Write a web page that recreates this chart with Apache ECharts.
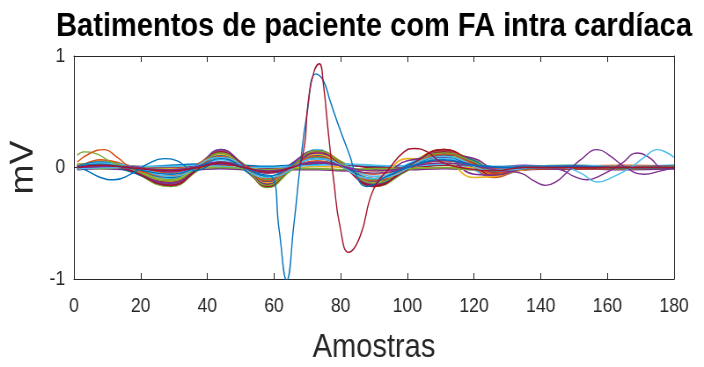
<!DOCTYPE html>
<html>
<head>
<meta charset="utf-8">
<script src="https://cdn.jsdelivr.net/npm/echarts@6/dist/echarts.min.js"></script>
<style>
html, body { margin: 0; padding: 0; background: #fff; overflow: hidden; }
/* the reference text is narrow and tall, so the whole figure is squeezed horizontally */
#chart { width: 800px; height: 367px; transform: scaleX(0.88); transform-origin: 0 0; }
</style>
</head>
<body>
<div id="chart"></div>
<script>
// sample positions shared by the bundle of beats
const knots = [1, 8, 16, 29, 37, 44, 51, 58, 65, 73, 81, 90, 100, 111, 120, 126, 135, 150, 165, 180]

// beats that follow the common oscillation (mV at each knot)
const oscBeats = [
  [0.02, 0.04, -0.01, -0.15, -0.02, 0.15, 0.02, -0.16, -0.02, 0.15, 0.03, -0.16, -0.01, 0.15, 0.05, -0.04, 0.00, 0.01, 0.00, 0.01],
  [0.00, 0.06, 0.01, -0.12, 0.01, 0.13, -0.01, -0.14, 0.01, 0.13, 0.01, -0.14, 0.02, 0.16, 0.03, -0.06, -0.01, 0.00, 0.01, 0.00],
  [-0.02, 0.02, -0.02, -0.17, -0.03, 0.12, 0.03, -0.18, -0.03, 0.12, 0.04, -0.17, -0.03, 0.13, 0.07, -0.02, 0.01, -0.01, 0.00, -0.01],
  [0.01, 0.05, 0.00, -0.10, 0.02, 0.16, 0.00, -0.12, 0.02, 0.16, 0.00, -0.12, 0.03, 0.14, -0.02, -0.08, -0.02, 0.01, 0.01, 0.02],
  [0.03, 0.03, -0.03, -0.14, 0.00, 0.11, -0.02, -0.15, 0.00, 0.11, 0.02, -0.15, -0.02, 0.12, 0.06, -0.03, 0.00, 0.00, -0.01, 0.00],
  [-0.01, 0.07, 0.02, -0.08, 0.03, 0.14, 0.01, -0.10, 0.01, 0.14, 0.03, -0.10, 0.01, 0.16, 0.00, -0.09, -0.01, 0.01, 0.02, 0.01],
  [0.00, 0.01, -0.01, -0.16, -0.01, 0.16, 0.02, -0.13, 0.03, 0.15, 0.01, -0.13, 0.00, 0.11, 0.08, 0.00, 0.02, -0.01, -0.01, -0.01],
  [0.02, 0.04, 0.00, -0.11, 0.01, 0.09, 0.00, -0.11, 0.00, 0.09, 0.01, -0.11, 0.01, 0.10, 0.03, -0.05, 0.00, 0.02, 0.00, 0.00],
  [-0.01, 0.03, -0.01, -0.13, 0.00, 0.13, 0.01, -0.17, -0.01, 0.12, 0.02, -0.16, -0.02, 0.14, 0.01, -0.07, -0.02, 0.00, 0.01, 0.01],
  [0.01, 0.05, 0.01, -0.09, 0.02, 0.10, -0.01, -0.12, 0.02, 0.10, 0.00, -0.12, 0.02, 0.12, 0.04, -0.04, 0.01, 0.01, 0.00, 0.00],
  [0.00, 0.03, 0.00, -0.12, 0.01, 0.12, 0.00, -0.14, 0.00, 0.12, 0.00, -0.14, 0.08, 0.06, -0.09, -0.08, -0.02, 0.00, 0.01, 0.00],
  [0.01, 0.02, -0.01, -0.14, -0.01, 0.13, 0.01, -0.15, -0.01, 0.13, 0.02, -0.15, 0.06, 0.09, -0.06, -0.07, -0.01, 0.01, 0.00, 0.00],
  [0.00, 0.04, 0.02, -0.06, 0.01, 0.07, 0.00, -0.08, 0.01, 0.08, 0.02, -0.08, 0.00, 0.08, 0.03, -0.02, 0.00, 0.00, 0.01, 0.00],
  [-0.01, 0.01, -0.02, -0.16, -0.02, 0.14, 0.00, -0.16, 0.00, 0.15, 0.00, -0.17, 0.00, 0.16, 0.04, -0.05, -0.01, -0.01, 0.00, 0.00]
]

// nearly flat beats in the core of the bundle
const flatBeats = [
  [0.01, 0.02, 0.00, 0.02, 0.03, 0.03, 0.02, 0.01, 0.02, 0.03, 0.02, 0.01, 0.01, 0.02, 0.01, 0.00, 0.01, 0.01, 0.00, 0.01],
  [-0.02, -0.01, -0.02, -0.03, -0.02, -0.01, -0.02, -0.03, -0.02, -0.02, -0.03, -0.02, -0.02, -0.01, -0.02, -0.03, -0.02, -0.01, -0.02, -0.01],
  [0.00, 0.01, 0.01, 0.00, 0.01, 0.02, 0.01, -0.01, 0.00, 0.04, 0.03, 0.00, 0.00, 0.02, 0.02, 0.00, 0.00, 0.00, 0.00, 0.00],
  [0.03, 0.02, 0.00, -0.01, 0.00, 0.01, 0.00, -0.02, -0.01, 0.01, 0.00, -0.03, -0.01, 0.00, 0.00, -0.01, -0.01, 0.00, 0.01, 0.00],
  [-0.01, 0.00, 0.01, 0.01, 0.02, 0.01, 0.00, 0.00, 0.01, 0.02, 0.03, 0.02, 0.01, 0.03, 0.02, 0.01, 0.01, 0.02, 0.01, 0.02],
  [0.01, 0.03, 0.02, -0.05, -0.02, 0.05, 0.01, -0.05, 0.00, 0.06, 0.01, -0.06, 0.00, 0.06, 0.02, -0.01, 0.00, -0.01, -0.01, 0.00],
  [0.00, -0.01, 0.00, -0.02, -0.01, 0.00, -0.01, -0.02, -0.01, -0.01, -0.02, -0.01, -0.01, 0.00, -0.02, -0.02, -0.01, 0.00, -0.01, 0.00]
]

// odd beats, [sample, mV]
const blueEarly = [[1, 0.01], [4, -0.03], [8, -0.09], [12, -0.11], [17, -0.06], [22, 0.03], [27, 0.08], [31, 0.06], [36, -0.03], [44, 0.05], [51, 0.0], [58, -0.08], [65, 0.0], [73, 0.08], [81, 0.0], [90, -0.1], [100, 0.0], [111, 0.1], [120, 0.02], [135, 0.0], [150, 0.01], [165, 0.0], [180, 0.0]]
const orangeEarly = [[1, 0.05], [5, 0.13], [9, 0.16], [13, 0.09], [17, 0.0], [22, -0.05], [28, -0.08], [37, 0.0], [44, 0.1], [51, 0.0], [58, -0.12], [65, 0.0], [73, 0.1], [81, 0.0], [90, -0.12], [100, 0.0], [111, 0.12], [120, 0.03], [126, -0.05], [135, 0.0], [150, 0.0], [165, 0.01], [180, 0.0]]
const greenEarly = [[1, 0.11], [3, 0.14], [7, 0.12], [11, 0.05], [16, 0.0], [29, -0.12], [37, 0.0], [44, 0.13], [51, 0.0], [58, -0.16], [65, 0.0], [73, 0.15], [81, 0.02], [90, -0.14], [100, 0.0], [111, 0.13], [120, 0.05], [126, -0.03], [135, 0.0], [150, 0.0], [165, 0.0], [180, 0.01]]
const purpleA = [[1, 0.0], [16, 0.01], [29, -0.04], [44, 0.05], [58, -0.05], [73, 0.05], [90, -0.05], [111, 0.06], [126, -0.02], [134, -0.05], [138, -0.12], [141.5, -0.16], [145, -0.12], [148, -0.04], [152, 0.07], [157, 0.16], [161, 0.1], [165, 0.01], [171, -0.06], [176, -0.03], [180, 0.0]]
const purpleB = [[1, 0.01], [16, 0.0], [29, -0.02], [44, 0.03], [58, -0.03], [73, 0.04], [90, -0.03], [111, 0.04], [126, 0.0], [140, 0.0], [146, -0.02], [150, -0.08], [154, -0.11], [158, -0.07], [164, 0.03], [169, 0.13], [173, 0.08], [176, 0.0], [180, -0.01]]
const cyanLate = [[1, -0.01], [16, 0.0], [29, -0.08], [44, 0.09], [58, -0.09], [73, 0.08], [90, -0.1], [111, 0.1], [126, -0.03], [140, 0.0], [147, 0.0], [152, -0.05], [157, -0.13], [162, -0.08], [167, 0.0], [171, 0.09], [175, 0.16], [178, 0.13], [180, 0.09]]
const bigBlue = [[1, 0.01], [8, 0.03], [16, 0.0], [29, -0.06], [37, 0.0], [44, 0.08], [51, 0.0], [56, -0.06], [59.3, -0.08], [61.5, -0.55], [63.8, -1.01], [66, -0.5], [67.8, 0.0], [69.8, 0.46], [72.6, 0.84], [74.8, 0.78], [76.8, 0.6], [79.8, 0.34], [82.8, 0.1], [84.8, -0.08], [87.8, -0.17], [93.8, -0.08], [100, 0.0], [111, 0.07], [120, 0.02], [135, 0.0], [150, 0.01], [165, 0.0], [180, 0.0]]
const bigRed = [[1, 0.0], [8, 0.02], [16, 0.0], [29, -0.03], [37, 0.0], [44, 0.04], [51, 0.0], [58, -0.04], [64, -0.01], [68.3, 0.07], [70.3, 0.6], [72, 0.86], [73.6, 0.93], [74.8, 0.75], [76.3, 0.31], [78, -0.14], [79.8, -0.53], [82.4, -0.76], [85.8, -0.62], [89.8, -0.2], [94.8, 0.0], [99, 0.14], [102, 0.17], [106, 0.14], [110, 0.05], [116, 0.0], [126, -0.03], [135, 0.0], [150, 0.0], [165, 0.0], [180, 0.0]]

const xTicks = [0, 180, 20]
const yTicks = [-1, 1, 1]

const matlabColors = ['#0072BD', '#D95319', '#EDB120', '#7E2F8E', '#77AC30', '#4DBEEE', '#A2142F']
const axisColor = '#262626'
const font = 'Liberation Sans, Arial, Helvetica, sans-serif'

const lineBase = {
  type: 'line',
  smooth: 0.5,
  symbol: 'none',
  lineStyle: { width: 1.6 },
  silent: true
}

const bundle = []
flatBeats.forEach((b, i) => { bundle.push(b); if (oscBeats[i * 2]) bundle.push(oscBeats[i * 2]); if (oscBeats[i * 2 + 1]) bundle.push(oscBeats[i * 2 + 1]) })

const series = bundle.map((vals, i) => Object.assign({}, lineBase, {
  color: matlabColors[i % 7],
  data: knots.map((x, k) => [x, vals[k]])
}))

const odd = [
  [greenEarly, '#77AC30'],
  [orangeEarly, '#D95319'],
  [blueEarly, '#0072BD'],
  [purpleB, '#7E2F8E'],
  [cyanLate, '#4DBEEE'],
  [purpleA, '#7E2F8E'],
  [bigBlue, '#0072BD'],
  [bigRed, '#A2142F']
]
odd.forEach(([data, color]) => series.push(Object.assign({}, lineBase, { color, data, lineStyle: { width: 1.4 } })))

const boxLine = { show: true, onZero: false, lineStyle: { color: axisColor, width: 1 } }
const inTick = { show: true, inside: true, length: 6, lineStyle: { color: axisColor } }

const option = {
  animation: false,
  backgroundColor: '#fff',
  title: {
    text: 'Batimentos de paciente com FA intra cardíaca',
    left: 420,
    textAlign: 'center',
    top: 5,
    textStyle: { fontFamily: font, fontWeight: 'bold', fontSize: 33, color: '#000' }
  },
  grid: { left: 84, right: 34, top: 56, bottom: 88, outerBoundsMode: 'none' },
  xAxis: [
    {
      type: 'value',
      min: xTicks[0],
      max: xTicks[1],
      interval: xTicks[2],
      name: 'Amostras',
      nameLocation: 'middle',
      nameGap: 52,
      nameTextStyle: { fontFamily: font, fontSize: 33, color: axisColor },
      axisLine: boxLine,
      axisTick: inTick,
      splitLine: { show: false },
      axisLabel: { fontFamily: font, fontSize: 20, color: axisColor, margin: 17 }
    },
    {
      type: 'value',
      position: 'top',
      min: xTicks[0],
      max: xTicks[1],
      interval: xTicks[2],
      axisLine: boxLine,
      axisTick: inTick,
      splitLine: { show: false },
      axisLabel: { show: false }
    }
  ],
  yAxis: [
    {
      type: 'value',
      min: yTicks[0],
      max: yTicks[1],
      interval: yTicks[2],
      name: 'mV',
      nameLocation: 'middle',
      nameGap: 34,
      nameTextStyle: { fontFamily: font, fontSize: 36, color: axisColor },
      axisLine: boxLine,
      axisTick: inTick,
      splitLine: { show: false },
      axisLabel: { fontFamily: font, fontSize: 20, color: axisColor, margin: 10 }
    },
    {
      type: 'value',
      position: 'right',
      min: yTicks[0],
      max: yTicks[1],
      interval: yTicks[2],
      axisLine: boxLine,
      axisTick: { show: false },
      splitLine: { show: false },
      axisLabel: { show: false }
    }
  ],
  series
}

const myChart = echarts.init(document.getElementById('chart'))
myChart.setOption(option)
</script>
</body>
</html>
